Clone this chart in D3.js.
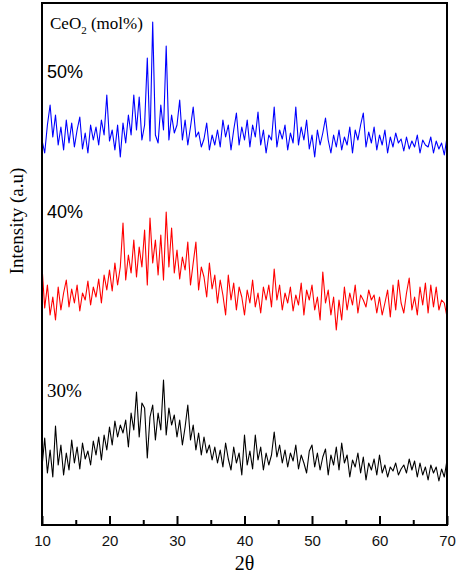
<!DOCTYPE html>
<html>
<head>
<meta charset="utf-8">
<script src="https://cdn.jsdelivr.net/npm/d3@7/dist/d3.min.js"></script>
<style>
  body { margin: 0; background: #fff; }
  svg { display: block; }
</style>
</head>
<body>
<svg id="chart" width="457" height="577"></svg>
<script>
// 2θ grid: 10..70 deg, 0.4 deg step
const thetaStart = 10, thetaStep = 0.4, nPoints = 151;
const twoTheta = d3.range(nPoints).map(i => +(thetaStart + thetaStep * i).toFixed(1));

// stacked intensities (a.u.)
const ceo2_50 = [
  385, 372, 400, 420, 388, 410, 380, 398, 375, 405,
  382, 402, 378, 395, 408, 376, 392, 372, 400, 385,
  398, 380, 405, 390, 430,  384, 395, 375, 400, 368,
  402, 382, 410, 390, 430,  395, 428, 385, 400, 467,
  384, 503, 390, 382, 420,  395, 479, 385, 410, 392,
  400, 425, 385, 405, 380,  398, 418, 388, 393, 378,
  386, 402, 375, 390, 380,  395, 378, 405, 388, 400,
  375, 395, 412, 380, 398,  385, 405, 378, 400, 388,
  413, 380, 395, 372, 390,  385, 418, 378, 395, 386,
  400, 375, 392, 382, 418,  380, 398, 385, 405, 376,
  390, 368, 395, 380, 392,  407, 385, 372, 390, 378,
  395, 375, 388, 380, 398,  372, 395, 385, 400, 412,
  378, 393, 382, 398, 375,  390, 380, 395, 372, 388,
  378, 392, 382, 386, 374,  388, 376, 384, 378, 390,
  372, 385, 380, 378, 388,  372, 384, 376, 382, 370,
  388
];
const ceo2_40 = [
  259, 217, 240, 210, 228, 205, 238, 215, 232, 245,
  218, 236, 222, 240, 214, 232, 225, 244, 220, 238,
  228, 246, 222, 250, 235,  255, 234, 262, 240, 258,
  302, 245, 270, 252, 285,  248, 278, 258, 295, 240,
  307, 262, 285, 250, 290,  245, 313, 258, 297, 252,
  275, 246, 268, 255, 283,  240, 262, 283, 235, 258,
  248, 228, 262, 236, 250,  222, 245, 230, 210, 250,
  225, 242, 215, 238, 228,  210, 235, 222, 245, 218,
  232, 212, 238, 225, 240,  218, 256, 225, 240, 215,
  232, 222, 238, 214, 230,  220, 242, 210, 235, 225,
  240, 215, 228, 205, 253,  222, 235, 210, 228, 195,
  225, 205, 238, 215, 232,  220, 240, 212, 230, 225,
  218, 235, 225, 230, 212,  228, 210, 222, 235, 208,
  240, 215, 245, 222, 212,  232, 247, 215, 228, 210,
  238, 220, 242, 212, 240,  218, 238, 215, 225, 222,
  208
];
const ceo2_30 = [
  58, 87, 52, 75, 48, 99, 60, 80, 50, 72,
  55, 85, 62, 78, 56, 82, 66, 74, 60, 84,
  70, 88, 65, 90, 75,  98, 80, 104, 88, 100,
  92, 105, 78, 112, 95,  133, 88, 122, 117, 67,
  108, 120, 85, 112, 95,  145, 90, 117, 100, 110,
  88, 105, 80, 98, 120,  85, 100, 75, 92, 70,
  88, 72, 80, 65, 78,  62, 75, 58, 82, 66,
  55, 78, 62, 72, 50,  90, 60, 74, 56, 90,
  65, 78, 55, 72, 60,  70, 93, 68, 80, 62,
  75, 58, 72, 64, 80,  56, 70, 62, 52, 74,
  80, 58, 72, 55, 68,  76, 50, 70, 60, 78,
  55, 82, 62, 70, 48,  65, 58, 72, 52, 68,
  45, 62, 55, 66, 50,  70, 52, 60, 48, 58,
  54, 62, 50, 56, 60,  52, 66, 55, 64, 48,
  62, 50, 58, 45, 60,  52, 58, 44, 56, 48,
  65
];

const series = [
  { name: "50%", values: ceo2_50, color: "#0000ff" },
  { name: "40%", values: ceo2_40, color: "#ff0000" },
  { name: "30%", values: ceo2_30, color: "#000000" }
];
const majorTicks = [10, 20, 30, 40, 50, 60, 70];
const minorTicks = [15, 25, 35, 45, 55, 65];

const plotLeft = 42, plotRight = 447, plotTop = 3, plotBottom = 525;

const svg = d3.select("#chart");

const x = d3.scaleLinear().domain([10, 70]).range([plotLeft, plotRight]);
const y = d3.scaleLinear().domain([0, 522]).range([plotBottom, plotTop]);

const line = d3.line()
  .x((d, i) => x(twoTheta[i]))
  .y(d => y(d));

svg.selectAll("path.trace")
  .data(series)
  .join("path")
  .attr("class", "trace")
  .attr("fill", "none")
  .attr("stroke", d => d.color)
  .attr("stroke-width", 1.1)
  .attr("stroke-linejoin", "round")
  .attr("d", d => line(d.values));

// minor ticks
svg.append("g")
  .attr("transform", "translate(0," + plotBottom + ")")
  .call(d3.axisBottom(x).tickValues(minorTicks).tickSize(-5).tickFormat(""))
  .call(g => g.select(".domain").remove())
  .selectAll("line").attr("stroke-width", 2);

// major ticks + labels
svg.append("g")
  .attr("transform", "translate(0," + plotBottom + ")")
  .call(d3.axisBottom(x).tickValues(majorTicks).tickSize(-9).tickPadding(10).tickFormat(d3.format("d")))
  .call(g => g.select(".domain").remove())
  .call(g => g.selectAll("line").attr("stroke-width", 2))
  .selectAll("text")
  .attr("font-family", "Liberation Sans, Arial, sans-serif")
  .attr("font-size", 15)
  .attr("fill", "#111");

// frame
svg.append("rect")
  .attr("x", plotLeft).attr("y", plotTop)
  .attr("width", plotRight - plotLeft).attr("height", plotBottom - plotTop)
  .attr("fill", "none")
  .attr("stroke", "#000")
  .attr("stroke-width", 2);

// in-plot labels
const header = svg.append("text")
  .attr("x", 50).attr("y", 29)
  .attr("font-family", "Liberation Serif, Times New Roman, serif")
  .attr("font-size", 17);
header.append("tspan").text("CeO");
header.append("tspan").attr("font-size", 11).attr("dy", 5).text("2");
header.append("tspan").attr("dy", -5).text(" (mol%)");

svg.append("text").attr("x", 47).attr("y", 78)
  .attr("font-family", "Liberation Sans, Arial, sans-serif")
  .attr("font-size", 18).text(series[0].name);
svg.append("text").attr("x", 47).attr("y", 218)
  .attr("font-family", "Liberation Sans, Arial, sans-serif")
  .attr("font-size", 18).text(series[1].name);
svg.append("text").attr("x", 47).attr("y", 397)
  .attr("font-family", "Liberation Serif, Times New Roman, serif")
  .attr("font-size", 19).text(series[2].name);

// axis titles
svg.append("text")
  .attr("transform", "translate(23,221) rotate(-90)")
  .attr("text-anchor", "middle")
  .attr("font-family", "Liberation Serif, Times New Roman, serif")
  .attr("font-size", 19)
  .text("Intensity (a.u)");

svg.append("text")
  .attr("x", (plotLeft + plotRight) / 2).attr("y", 570)
  .attr("text-anchor", "middle")
  .attr("font-family", "Liberation Serif, Times New Roman, serif")
  .attr("font-size", 20)
  .text("2θ");
</script>
</body>
</html>
